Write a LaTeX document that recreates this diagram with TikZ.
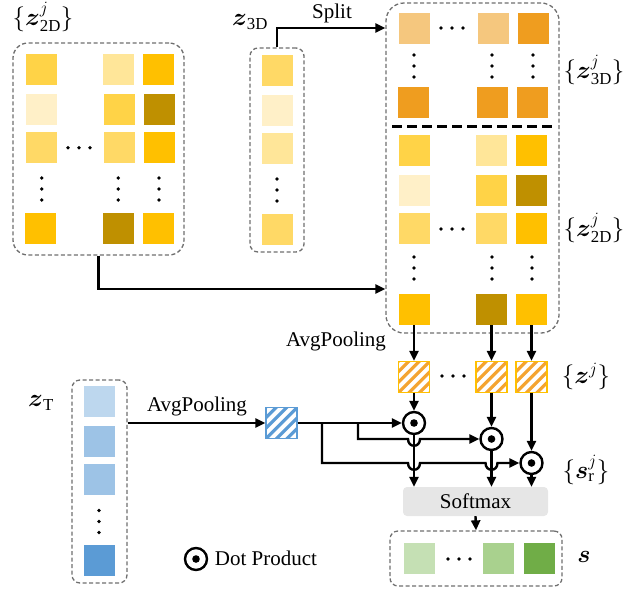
\documentclass[tikz,border=0pt]{standalone}
\usepackage{amsmath}
\usepackage{fontspec}
\setmainfont{Liberation Serif}
\usetikzlibrary{arrows.meta,calc}
\definecolor{gA}{HTML}{FFD347}
\definecolor{gB}{HTML}{FFE699}
\definecolor{gC}{HTML}{FFC000}
\definecolor{gD}{HTML}{FFF0C8}
\definecolor{gE}{HTML}{BF9000}
\definecolor{gF}{HTML}{FFD966}
\definecolor{oL}{HTML}{F5C77E}
\definecolor{oD}{HTML}{EF9D1F}
\definecolor{oS}{HTML}{F4A431}
\definecolor{bA}{HTML}{BDD7EE}
\definecolor{bB}{HTML}{9DC3E6}
\definecolor{bC}{HTML}{5B9BD5}
\definecolor{grA}{HTML}{C5E0B4}
\definecolor{grB}{HTML}{A9D18E}
\definecolor{grC}{HTML}{70AD47}
\definecolor{boxgray}{HTML}{6E6E6E}
\definecolor{smgray}{HTML}{E6E6E6}
\newcommand{\zz}{\boldsymbol{z}}
\newcommand{\vdts}[2]{\foreach \t in {-11,0,11} \fill (#1,#2+\t) circle (1.9pt);}
\newcommand{\hdts}[2]{\foreach \t in {-11,0,11} \fill (#1+\t,#2) circle (1.9pt);}
\begin{document}
\begin{tikzpicture}[x=1pt,y=-1pt,font=\fontsize{21}{25}\selectfont,
  sq/.style={minimum size=31pt,inner sep=0pt,outer sep=0pt},
  dbox/.style={draw=boxgray,dash pattern=on 4pt off 2.5pt,line width=1.3pt,inner sep=0pt},
  arr/.style={line width=2.4pt,-{Triangle[length=10pt,width=9pt]}},
  lab/.style={font=\fontsize{24}{28}\selectfont,inner sep=0pt},
  dotp/.style={circle,draw,line width=2.4pt,minimum size=22pt,inner sep=0pt,
    path picture={\fill (path picture bounding box.center) circle (3.8pt);}},
  hatch/.style 2 args={draw=#1,line width=1.3pt,minimum size=31pt,inner sep=0pt,fill=white,
    path picture={\foreach \k in {-3,...,3}{\draw[#2,line width=3.2pt]
      ($(path picture bounding box.center)+(\k*10.5pt-22pt,-22pt)$) -- ++(44pt,44pt);}}}
]
\useasboundingbox (0,0) rectangle (639,590);

% dashed containers
\node[dbox,rounded corners=15pt,minimum width=171pt,minimum height=212pt] (L) at (98.5,149) {};
\node[dbox,rounded corners=8pt,minimum width=54pt,minimum height=204pt] (B3) at (277,150) {};
\node[dbox,rounded corners=18pt,minimum width=173pt,minimum height=330pt] (R) at (472.5,168) {};
\node[dbox,rounded corners=8pt,minimum width=55pt,minimum height=203pt] (T) at (99.5,481.5) {};
\node[dbox,rounded corners=8pt,minimum width=172pt,minimum height=55pt] (S) at (476,558.5) {};

% left box squares
\foreach \x/\y/\c/\n in {41.5/69.5/gA/l11,118.5/69.5/gB/l12,158.5/69.5/gC/l13,
  41.5/109.5/gD/l21,119.5/109.5/gA/l22,159.5/109.5/gE/l23,
  41.5/147.5/gF/l31,119.5/147.5/gF/l32,159.5/147.5/gC/l33,
  40.5/228.5/gC/l51,118.5/228.5/gE/l52,158.5/228.5/gC/l53}
  \node[sq,fill=\c] (\n) at (\x,\y) {};
\hdts{79}{147.7}
\vdts{41.7}{189}\vdts{118.3}{189}\vdts{159}{189}

% z3D squares
\foreach \y/\c/\n in {70.5/gF/b1,110.5/gD/b2,148.5/gB/b3,229.5/gF/b4}
  \node[sq,fill=\c] (\n) at (277.5,\y) {};
\vdts{277}{190}

% right box top (3D)
\foreach \x/\y/\c/\n in {414/28/oL/t11,493/28/oL/t12,533/28/oD/t13,
  413/102/oD/t21,492/102/oD/t22,532/102/oD/t23}
  \node[sq,fill=\c] (\n) at (\x,\y) {};
\hdts{452}{28}
\vdts{414}{66}\vdts{492}{66}\vdts{533}{66}
\draw[line width=3pt,dash pattern=on 10pt off 5pt] (392,126) -- (553,126);

% right box bottom (2D)
\foreach \x/\y/\c/\n in {414/150.5/gA/r11,491.5/150.5/gB/r12,531.5/150.5/gC/r13,
  414/190.5/gD/r21,491.5/190.5/gA/r22,531.5/190.5/gE/r23,
  414/228.5/gF/r31,491.5/228.5/gF/r32,531.5/228.5/gC/r33,
  414/309.5/gC/r51,491.5/309.5/gE/r52,531.5/309.5/gC/r53}
  \node[sq,fill=\c] (\n) at (\x,\y) {};
\hdts{452}{229}
\vdts{414}{268}\vdts{492}{268}\vdts{532}{268}

% zT squares
\foreach \y/\c/\n in {401.5/bA/z1,441.5/bB/z2,479.5/bB/z3,560.5/bC/z4}
  \node[sq,fill=\c] (\n) at (99.5,\y) {};
\vdts{99}{521.5}

% green squares
\node[sq,fill=grA] (g1) at (419.5,558.5) {};
\node[sq,fill=grB] (g2) at (498.5,558.5) {};
\node[sq,fill=grC] (g3) at (539.5,558.5) {};
\hdts{459}{559}

% hatched squares
\node[hatch={gC}{oS}] (h1) at (414,377) {};
\node[hatch={gC}{oS}] (h2) at (491.5,377) {};
\node[hatch={gC}{oS}] (h3) at (531.5,377) {};
\hdts{453}{376}
\node[hatch={bC}{bC}] (hb) at (281.5,423) {};

% dot products
\node[dotp] (d1) at (414,423) {};
\node[dotp] (d2) at (491.5,439) {};
\node[dotp] (d3) at (531.5,463) {};

% softmax
\node[fill=smgray,rounded corners=4pt,minimum width=145pt,minimum height=29pt,inner sep=0pt] (sm) at (475.5,501.5) {Softmax};

% labels
\node[lab] (lz2d) at (43,17) {$\{\zz^{j}_{\mathrm{2D}}\}$};
\node[lab] (lz3d) at (250,22) {$\zz_{\mathrm{3D}}$};
\node (lsplit) at (332,13) {Split};
\node[lab] (lz3dj) at (594,70) {$\{\zz^{j}_{\mathrm{3D}}\}$};
\node[lab] (lz2dj) at (594,228) {$\{\zz^{j}_{\mathrm{2D}}\}$};
\node[lab] (lzj) at (586,376) {$\{\zz^{j}\}$};
\node[lab] (lsr) at (586,470) {$\{\boldsymbol{s}^{j}_{\mathrm{r}}\}$};
\node[lab] (ls) at (584,557) {$\boldsymbol{s}$};
\node[lab] (lzt) at (41,403) {$\zz_{\mathrm{T}}$};
\node (lap1) at (197,406) {AvgPooling};
\node (lap2) at (336,341) {AvgPooling};
\node[dotp] (leg) at (196,559) {};
\node (legt) at (266,558) {Dot Product};

% connectors
\coordinate (j2d) at (0,289);
\draw[arr] (B3.north) |- (R.west |- t11);
\draw[arr] (L.south) |- (R.west |- j2d);
\draw[arr] (r51.south) -- (h1.north);
\draw[arr] (r52.south) -- (h2.north);
\draw[arr] (r53.south) -- (h3.north);
\draw[arr] (h1.south) -- (d1);
\draw[arr] (h2.south) -- (d2);
\draw[arr] (h3.south) -- (d3);
\draw[arr] (T.east |- hb) -- (hb.west);
\draw[arr] (hb.east) -- (d1);
\coordinate (br1) at (358,423);
\coordinate (br2) at (322,423);
\draw[arr] (br1) |- ($(d1|-d2)+(-6,0)$) .. controls +(0,9) and +(0,9) .. ($(d1|-d2)+(6,0)$) -- (d2);
\draw[arr] (br2) |- ($(d1|-d3)+(-6,0)$) .. controls +(0,9) and +(0,9) .. ($(d1|-d3)+(6,0)$)
  -- ($(d2|-d3)+(-6,0)$) .. controls +(0,9) and +(0,9) .. ($(d2|-d3)+(6,0)$) -- (d3);
\draw[arr] (d1) -- (d1 |- sm.north);
\draw[arr] (d2) -- (d2 |- sm.north);
\draw[arr] (d3) -- (d3 |- sm.north);
\draw[arr] (sm.south) -- (S.north);
\end{tikzpicture}
\end{document}
